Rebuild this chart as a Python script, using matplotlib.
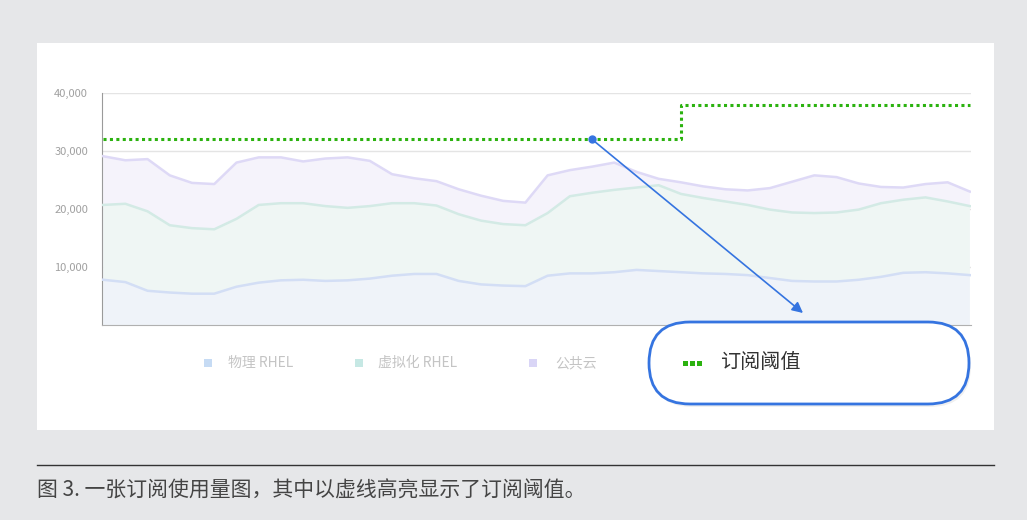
import matplotlib as mpl
import matplotlib.pyplot as plt
from matplotlib.patches import Rectangle, FancyBboxPatch
from matplotlib.ticker import FuncFormatter
import numpy as np

mpl.rcParams['font.family'] = ['Noto Sans CJK SC', 'DejaVu Sans']

# ------- DATA ------- #
weeks = list(range(40))
physical = [7800, 7400, 5900, 5600, 5400, 5400, 6600, 7300, 7700, 7800,
            7600, 7700, 8000, 8500, 8800, 8800, 7600, 7000, 6800, 6700,
            8500, 8900, 8900, 9100, 9500, 9300, 9100, 8900, 8800, 8600,
            8100, 7600, 7500, 7500, 7800, 8300, 9000, 9100, 8900, 8600]
virtual = [12900, 13500, 13700, 11600, 11300, 11100, 11700, 13400, 13300, 13200,
           12900, 12500, 12500, 12500, 12200, 11800, 11500, 11000, 10600, 10500,
           10800, 13300, 13900, 14200, 14200, 14800, 13500, 13000, 12500, 12100,
           11800, 11800, 11800, 11900, 12100, 12700, 12600, 12900, 12400, 11900]
cloud = [8400, 7500, 9000, 8600, 7800, 7800, 9700, 8200, 7900, 7200,
         8200, 8700, 7800, 5000, 4300, 4200, 4300, 4300, 4000, 3900,
         6500, 4500, 4500, 4700, 2700, 1100, 2000, 2000, 2100, 2500,
         3700, 5300, 6500, 6100, 4500, 2800, 2100, 2300, 3300, 2500]
series_labels = ['物理 RHEL', '虚拟化 RHEL', '公共云']

threshold_weeks = [0, 26, 39]
threshold_vals = [32000, 38000, 38000]
marker_week = 22
threshold_label = '订阅阈值'

yticks = [10000, 20000, 30000, 40000]
caption = '图 3. 一张订阅使用量图，其中以虚线高亮显示了订阅阈值。'

# colours
outer_bg = '#e6e7e9'
line_colors = ['#d3def5', '#d3eae5', '#ded9f6']
fill_colors = ['#eff3f9', '#eff6f4', '#f5f3fb']
legend_colors = ['#c6dbf4', '#c6e8e4', '#d9d5f6']
green = '#2bb20f'
blue = '#3574e0'


def px(x, y):
    # top-left pixel coords -> inches from bottom-left
    return x / 100, (520 - y) / 100


# ------- FIGURE ------- #
fig = plt.figure(figsize=(10.27, 5.2), dpi=100)
fig.set_facecolor(outer_bg)
tr = fig.dpi_scale_trans

# white panel
x0, y0 = px(37, 430)
fig.add_artist(Rectangle((x0, y0), 9.57, 3.87, transform=tr,
                         facecolor='white', edgecolor='none', zorder=-2))

ax = fig.add_axes([102 / 1027, 195 / 520, 869 / 1027, 232 / 520])
ax.set_facecolor('none')

# stacked areas
ax.stackplot(weeks, physical, virtual, cloud, colors=fill_colors, lw=0)
cum = np.cumsum([physical, virtual, cloud], axis=0)
for vals, c in zip(cum, line_colors):
    ax.plot(weeks, vals, color=c, lw=1.8, zorder=3)

# threshold
ax.step(threshold_weeks, threshold_vals, where='post',
        color=green, lw=2.2, ls=(0, (1, 1.1)), zorder=4)
ax.plot([marker_week], [threshold_vals[0]], 'o', color=blue, ms=5, zorder=6)
ax.annotate('', xy=px(803, 313), xycoords=tr,
            xytext=(marker_week, threshold_vals[0]), textcoords='data',
            arrowprops=dict(arrowstyle='-|>', color=blue, lw=1.2,
                            shrinkA=0, shrinkB=0, mutation_scale=16),
            annotation_clip=False, zorder=6)

# axes styling
ax.set_xlim(-0.05, 39.05)
ax.set_ylim(0, 40000)
ax.set_xticks([])
ax.set_yticks(yticks)
ax.yaxis.set_major_formatter(FuncFormatter(lambda v, p: f'{int(v):,}'))
ax.tick_params(axis='y', length=0, labelsize=8, labelcolor='#a0a0a0', pad=10)
ax.grid(axis='y', color='#e4e4e4', lw=1, zorder=0)
ax.set_axisbelow(True)
for spine in ['top', 'right']:
    ax.spines[spine].set_visible(False)
ax.spines['left'].set_color('#9a9a9a')
ax.spines['bottom'].set_color('#b0b0b0')

# bottom legend
legend_pos = [(204, 228), (355, 378), (529, 555)]
for (mx, tx), c, lab in zip(legend_pos, legend_colors, series_labels):
    fig.add_artist(Rectangle(px(mx, 367), 0.08, 0.08, transform=tr,
                             facecolor=c, edgecolor='none'))
    fig.text(*px(tx, 363), lab, transform=tr, fontsize=10,
             color='#c4c4c4', va='center', ha='left')

# highlighted legend box (pill)
bx, by = px(649, 404)
bw, bh = 3.20, 0.82
fig.add_artist(FancyBboxPatch((bx + 0.02, by - 0.03), bw, bh,
                              boxstyle='round,pad=0,rounding_size=0.41',
                              transform=tr, facecolor='#000000', alpha=0.06,
                              edgecolor='none', zorder=4))
fig.add_artist(FancyBboxPatch((bx, by), bw, bh,
                              boxstyle='round,pad=0,rounding_size=0.41',
                              transform=tr, facecolor='white',
                              edgecolor=blue, lw=2, zorder=5))
for i in range(3):
    fig.add_artist(Rectangle(px(683 + i * 7, 366), 0.05, 0.05, transform=tr,
                             facecolor=green, edgecolor='none', zorder=6))
fig.text(*px(720, 363), threshold_label, transform=tr, fontsize=14.5,
         color='#333333', va='center', ha='left', zorder=6)

# caption
fig.add_artist(plt.Line2D([0.37, 9.94], [px(0, 465)[1]] * 2, transform=tr,
                          color='#333333', lw=1))
fig.text(*px(37, 491), caption, transform=tr, fontsize=15,
         color='#444444', va='center', ha='left', style='italic')

plt.savefig('out.png', dpi=100)
